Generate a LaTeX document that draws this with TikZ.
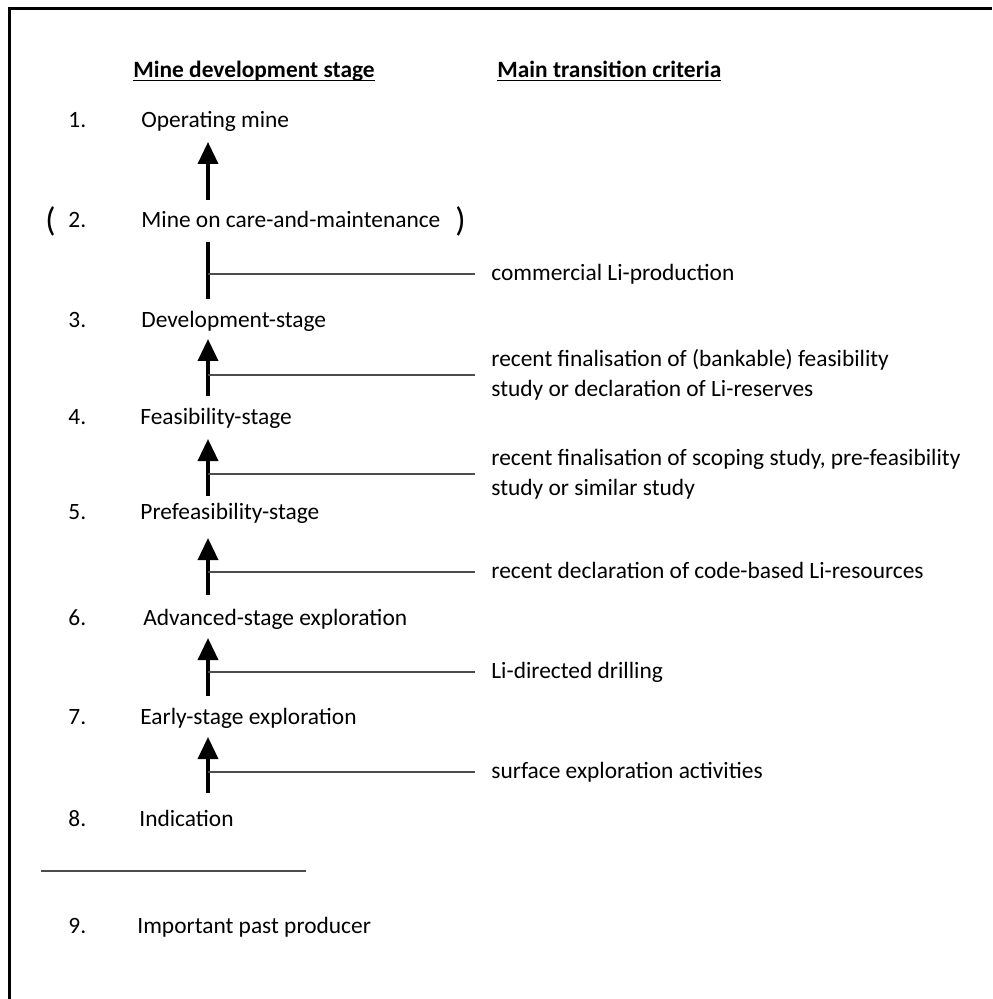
\documentclass[tikz,border=0pt]{standalone}
\usepackage{fontspec}
\setmainfont{Carlito}
\usetikzlibrary{arrows.meta}

\tikzset{
  stage/.style={anchor=base west, inner sep=0pt},
  paren/.style={stage, font=\fontsize{17}{18}\selectfont},
  crit/.style={anchor=west, align=left, inner xsep=8pt, inner ysep=0pt},
  critone/.style={crit, text height=0.75em, text depth=0.2em},
  up/.style={line width=1.8pt, -{Triangle[width=10pt,length=11pt]}},
  bar/.style={line width=1.8pt},
  link/.style={line width=0.75pt, black!70}
}

\begin{document}
\fontsize{11.7}{15}\selectfont
\begin{tikzpicture}[x=0.5pt, y=-0.5pt]
    \path[use as bounding box, clip] (0,0) rectangle (992,999);
    % Frame (runs off the page on the right and at the bottom)
    \draw[line width=1.5pt] (9,999) -- (9,9) -- (992,9);

    % Headings
    \node[stage, font=\bfseries] (head1) at (133,78) {\underline{\smash{Mine development stage}}};
    \node[stage, font=\bfseries] (head2) at (497,78) {\underline{\smash{Main transition criteria}}};

    % Stages
    \node[stage] (n1) at (68,128) {1.};
    \node[stage] (s1) at (141,128) {Operating mine};
    \node[paren] (pl) at (45,232) {(};
    \node[stage] (n2) at (68,228) {2.};
    \node[stage] (s2) at (141,228) {Mine on care-and-maintenance};
    \node[paren] (pr) at (455,232) {)};
    \node[stage] (n3) at (68,328) {3.};
    \node[stage] (s3) at (141,328) {Development-stage};
    \node[stage] (n4) at (68,424) {4.};
    \node[stage] (s4) at (140,424) {Feasibility-stage};
    \node[stage] (n5) at (68,519) {5.};
    \node[stage] (s5) at (140,519) {Prefeasibility-stage};
    \node[stage] (n6) at (68,625) {6.};
    \node[stage] (s6) at (143,625) {Advanced-stage exploration};
    \node[stage] (n7) at (68,724) {7.};
    \node[stage] (s7) at (140,724) {Early-stage exploration};
    \node[stage] (n8) at (68,826) {8.};
    \node[stage] (s8) at (139,826) {Indication};
    \node[stage] (n9) at (68,933) {9.};
    \node[stage] (s9) at (137,933) {Important past producer};

    % Criteria
    \node[critone] (c2) at (475,274) {commercial Li-production};
    \node[crit] (c3) at (475,375) {recent finalisation of (bankable) feasibility\\study or declaration of Li-reserves};
    \node[crit] (c4) at (475,474) {recent finalisation of scoping study, pre-feasibility\\study or similar study};
    \node[critone] (c5) at (475,572) {recent declaration of code-based Li-resources};
    \node[critone] (c6) at (475,672) {Li-directed drilling};
    \node[critone] (c7) at (475,772) {surface exploration activities};

    % Arrow ends and junctions
    \coordinate (t1) at (208,142);  \coordinate (b1) at (208,200);
    \coordinate (t2) at (208,242);  \coordinate (b2) at (208,299);  \coordinate (j2) at (208,274);
    \coordinate (t3) at (208,339);  \coordinate (b3) at (208,396);  \coordinate (j3) at (208,375);
    \coordinate (t4) at (208,439);  \coordinate (b4) at (208,496);  \coordinate (j4) at (208,474);
    \coordinate (t5) at (208,538);  \coordinate (b5) at (208,595);  \coordinate (j5) at (208,572);
    \coordinate (t6) at (208,638);  \coordinate (b6) at (208,696);  \coordinate (j6) at (208,672);
    \coordinate (t7) at (208,737);  \coordinate (b7) at (208,793);  \coordinate (j7) at (208,772);

    % Transitions
    \draw[up] (b1) -- (t1);
    \draw[bar] (b2) -- (t2);
    \draw[up] (b3) -- (t3);
    \draw[up] (b4) -- (t4);
    \draw[up] (b5) -- (t5);
    \draw[up] (b6) -- (t6);
    \draw[up] (b7) -- (t7);
    \draw[link] (j2) -- (c2.west);
    \draw[link] (j3) -- (c3.west);
    \draw[link] (j4) -- (c4.west);
    \draw[link] (j5) -- (c5.west);
    \draw[link] (j6) -- (c6.west);
    \draw[link] (j7) -- (c7.west);

    % Separator
    \coordinate (sepl) at (41,871);
    \coordinate (sepr) at (306,871);
    \draw[link] (sepl) -- (sepr);
\end{tikzpicture}
\end{document}
